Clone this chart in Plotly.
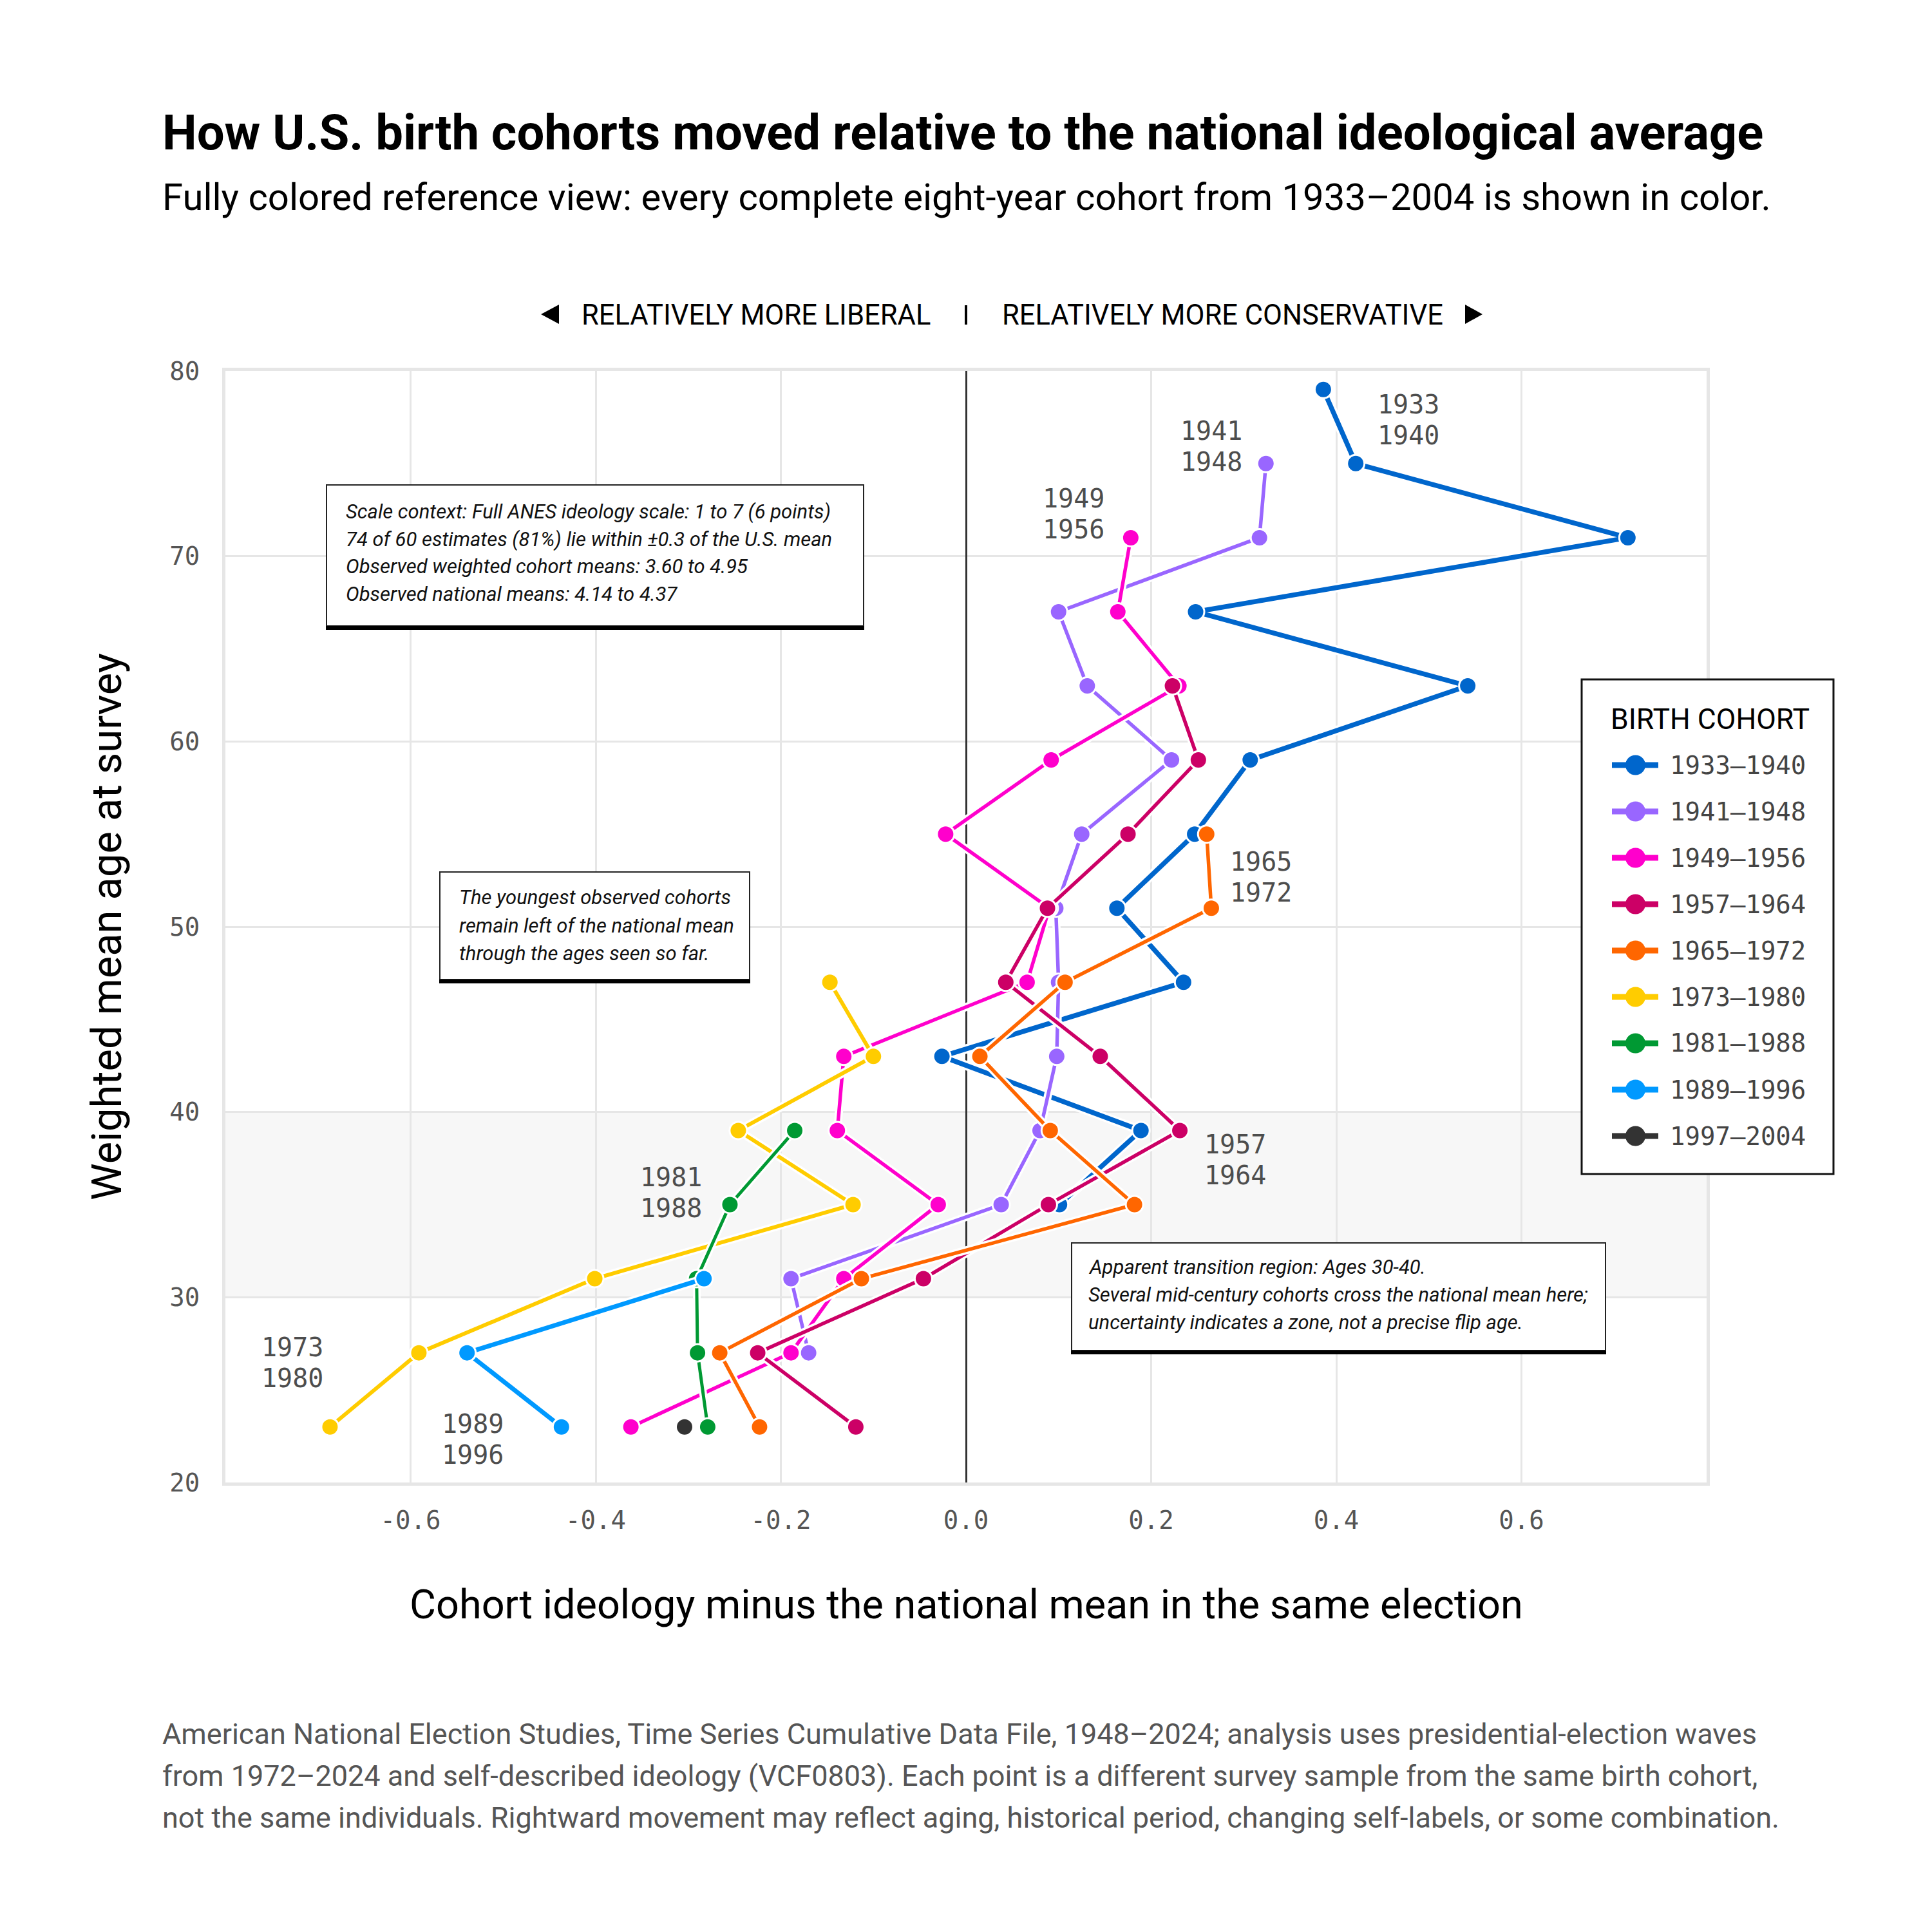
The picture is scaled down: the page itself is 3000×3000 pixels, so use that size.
import plotly.graph_objects as go

# ---------------- data ----------------
cohort_labels = ["1933–1940", "1941–1948", "1949–1956", "1957–1964", "1965–1972",
                 "1973–1980", "1981–1988", "1989–1996", "1997–2004"]

ages_1933_1940 = [35, 39, 43, 47, 51, 55, 59, 63, 67, 71, 75, 79]
diff_1933_1940 = [0.101, 0.189, -0.026, 0.235, 0.163, 0.247, 0.307, 0.542, 0.248, 0.715, 0.421, 0.386]

ages_1941_1948 = [27, 31, 35, 39, 43, 47, 51, 55, 59, 63, 67, 71, 75]
diff_1941_1948 = [-0.170, -0.189, 0.038, 0.080, 0.098, 0.100, 0.097, 0.125, 0.222, 0.131, 0.100, 0.317, 0.324]

ages_1949_1956 = [23, 27, 31, 35, 39, 43, 47, 51, 55, 59, 63, 67, 71]
diff_1949_1956 = [-0.362, -0.189, -0.132, -0.030, -0.139, -0.132, 0.066, 0.090, -0.022, 0.092, 0.230, 0.164, 0.178]

ages_1957_1964 = [23, 27, 31, 35, 39, 43, 47, 51, 55, 59, 63]
diff_1957_1964 = [-0.119, -0.225, -0.046, 0.089, 0.231, 0.145, 0.043, 0.088, 0.175, 0.251, 0.223]

ages_1965_1972 = [23, 27, 31, 35, 39, 43, 47, 51, 55]
diff_1965_1972 = [-0.223, -0.266, -0.113, 0.182, 0.091, 0.015, 0.107, 0.265, 0.260]

ages_1973_1980 = [23, 27, 31, 35, 39, 43, 47]
diff_1973_1980 = [-0.687, -0.591, -0.401, -0.122, -0.246, -0.100, -0.147]

ages_1981_1988 = [23, 27, 31, 35, 39]
diff_1981_1988 = [-0.279, -0.290, -0.291, -0.255, -0.185]

ages_1989_1996 = [23, 27, 31]
diff_1989_1996 = [-0.437, -0.539, -0.283]

ages_1997_2004 = [23]
diff_1997_2004 = [-0.304]

x_tick_values = [-0.6, -0.4, -0.2, 0.0, 0.2, 0.4, 0.6]
x_tick_labels = ["-0.6", "-0.4", "-0.2", "0.0", "0.2", "0.4", "0.6"]
y_tick_values = [20, 30, 40, 50, 60, 70, 80]
y_tick_labels = ["20", "30", "40", "50", "60", "70", "80"]

# ---------------- style ----------------
colors = ["#0066cc", "#9966ff", "#ff00cc", "#cc0066", "#ff6600",
          "#ffcc00", "#009933", "#0099ff", "#333333"]
widths = [7.5, 5.5, 5.5, 5.5, 5.5, 6, 5, 7, 5]

series = [
    (diff_1933_1940, ages_1933_1940),
    (diff_1941_1948, ages_1941_1948),
    (diff_1949_1956, ages_1949_1956),
    (diff_1957_1964, ages_1957_1964),
    (diff_1965_1972, ages_1965_1972),
    (diff_1973_1980, ages_1973_1980),
    (diff_1981_1988, ages_1981_1988),
    (diff_1989_1996, ages_1989_1996),
    (diff_1997_2004, ages_1997_2004),
]

SANS = "Roboto, Lato, sans-serif"
MONO = "DejaVu Sans Mono, Liberation Mono, monospace"

W = H = 3000
ML, MR, MT, MB = 350, 350, 576, 698
PW = W - ML - MR
PH = H - MT - MB


def px(x):
    return (x - ML) / PW


def py(y):
    return (H - MB - y) / PH


fig = go.Figure()

for (xs, ys), lab, col, lw in zip(series, cohort_labels, colors, widths):
    if len(xs) > 1:
        fig.add_trace(go.Scatter(x=xs, y=ys, mode="lines",
                                 line=dict(color="white", width=lw + 7),
                                 hoverinfo="skip", showlegend=False))
    fig.add_trace(go.Scatter(
        x=xs, y=ys, name=lab,
        mode="lines+markers" if len(xs) > 1 else "markers",
        line=dict(color=col, width=lw),
        marker=dict(size=27, color=col, line=dict(color="white", width=3)),
        showlegend=False))

shapes = []
annotations = []

# transition band
shapes.append(dict(type="rect", xref="x", yref="y", x0=-0.8, x1=0.8, y0=30, y1=40,
                   fillcolor="#f7f7f7", line=dict(width=0), layer="below"))


def ann(text, x, y, size, color="#000000", xanchor="left", yanchor="middle",
        family=SANS, xref="paper", yref="paper", yshift=0, textangle=0):
    annotations.append(dict(text=text, x=x, y=y, xref=xref, yref=yref,
                            xanchor=xanchor, yanchor=yanchor, showarrow=False,
                            yshift=yshift, textangle=textangle,
                            font=dict(family=family, size=size, color=color)))


# title / subtitle
ann("<b>How U.S. birth cohorts moved relative to the national ideological average</b>",
    px(250), py(206), 76)
ann("Fully colored reference view: every complete eight-year cohort from 1933–2004 is shown in color.",
    px(250), py(306), 58)

# direction header
ann("RELATIVELY MORE LIBERAL", px(1447), py(490), 43.5, xanchor="right")
ann("RELATIVELY MORE CONSERVATIVE", px(1554), py(490), 43.5, xanchor="left")
shapes.append(dict(type="path", xref="paper", yref="paper",
                   path=f"M {px(840)},{py(488)} L {px(868)},{py(473)} L {px(868)},{py(503)} Z",
                   fillcolor="#000000", line=dict(width=0)))
shapes.append(dict(type="path", xref="paper", yref="paper",
                   path=f"M {px(2302)},{py(488)} L {px(2275)},{py(473)} L {px(2275)},{py(503)} Z",
                   fillcolor="#000000", line=dict(width=0)))
shapes.append(dict(type="line", xref="paper", yref="paper", x0=px(1500), x1=px(1500),
                   y0=py(474), y1=py(504), line=dict(color="#000000", width=4)))

# axis titles
ann("Weighted mean age at survey", px(166), 0.5, 65, xanchor="center", textangle=-90)
ann("Cohort ideology minus the national mean in the same election", 0.5, py(2491), 63,
    xanchor="center")

# cohort end labels (two lines each)
cohort_label_text = [("1933", "1940"), ("1941", "1948"), ("1949", "1956"), ("1957", "1964"),
                     ("1965", "1972"), ("1973", "1980"), ("1981", "1988"), ("1989", "1996")]
cohort_label_pos = [(0.443, 77.35, "left"), (0.300, 75.95, "right"), (0.151, 72.3, "right"),
                    (0.256, 37.43, "left"), (0.284, 52.67, "left"), (-0.693, 26.45, "right"),
                    (-0.284, 35.63, "right"), (-0.498, 22.33, "right")]
for (l1, l2), (lx, ly, anc) in zip(cohort_label_text, cohort_label_pos):
    ann(l1, lx, ly, 40, color="#4d4d4d", xanchor=anc, family=MONO, xref="x", yref="y", yshift=24)
    ann(l2, lx, ly, 40, color="#4d4d4d", xanchor=anc, family=MONO, xref="x", yref="y", yshift=-24)


# note boxes
def note_box(x0, x1, y0, y1, text_x, lines, line_ys, size=31):
    shapes.append(dict(type="rect", xref="paper", yref="paper", x0=px(x0), x1=px(x1),
                       y0=py(y1), y1=py(y0), fillcolor="white",
                       line=dict(color="#222222", width=2), layer="above"))
    shapes.append(dict(type="line", xref="paper", yref="paper", x0=px(x0 - 1), x1=px(x1 + 1),
                       y0=py(y1 + 3), y1=py(y1 + 3), line=dict(color="#000000", width=6),
                       layer="above"))
    for t, ly in zip(lines, line_ys):
        ann("<i>" + t + "</i>", px(text_x), py(ly), size, color="#111111")


note_box(507, 1341, 753, 972, 535,
         ["Scale context: Full ANES ideology scale: 1 to 7 (6 points)",
          "74 of 60 estimates (81%) lie within ±0.3 of the U.S. mean",
          "Observed weighted cohort means: 3.60 to 4.95",
          "Observed national means: 4.14 to 4.37"],
         [794, 837, 879, 922])
note_box(683, 1164, 1354, 1521, 711,
         ["The youngest observed cohorts",
          "remain left of the national mean",
          "through the ages seen so far."],
         [1393, 1437, 1480])
note_box(1664, 2493, 1930, 2097, 1688,
         ["Apparent transition region: Ages 30-40.",
          "Several mid-century cohorts cross the national mean here;",
          "uncertainty indicates a zone, not a precise flip age."],
         [1967, 2010, 2053])

# legend (drawn manually)
shapes.append(dict(type="rect", xref="paper", yref="paper", x0=px(2456), x1=px(2847),
                   y0=py(1823), y1=py(1055), fillcolor="white",
                   line=dict(color="#111111", width=3), layer="above"))
ann("BIRTH COHORT", px(2499), py(1117), 44.5, color="#000000")
for i, (lab, col) in enumerate(zip(cohort_labels, colors)):
    yy = 1188 + 72 * i
    shapes.append(dict(type="line", xref="paper", yref="paper", x0=px(2503), x1=px(2575),
                       y0=py(yy), y1=py(yy), line=dict(color=col, width=9), layer="above"))
    shapes.append(dict(type="circle", xref="paper", yref="paper", x0=px(2524), x1=px(2555),
                       y0=py(yy + 15.5), y1=py(yy - 15.5), fillcolor=col,
                       line=dict(width=0), layer="above"))
    ann(lab, px(2591), py(yy), 39, color="#444444", family=MONO)

# footnote
foot_lines = [
    "American National Election Studies, Time Series Cumulative Data File, 1948–2024; analysis uses presidential-election waves",
    "from 1972–2024 and self-described ideology (VCF0803). Each point is a different survey sample from the same birth cohort,",
    "not the same individuals. Rightward movement may reflect aging, historical period, changing self-labels, or some combination.",
]
for t, ly in zip(foot_lines, [2692, 2757, 2822]):
    ann(t, px(250), py(ly), 45, color="#555555")

axis_common = dict(showgrid=True, gridcolor="#e6e6e6", gridwidth=3,
                   showline=True, linecolor="#e6e6e6", linewidth=5, mirror=True,
                   ticks="", fixedrange=True,
                   tickfont=dict(family=MONO, size=39, color="#555555"))

fig.update_layout(
    width=W, height=H,
    margin=dict(l=ML, r=MR, t=MT, b=MB, pad=0),
    paper_bgcolor="white", plot_bgcolor="white",
    showlegend=False,
    xaxis=dict(range=[-0.8, 0.8], tickmode="array", tickvals=x_tick_values, ticktext=x_tick_labels,
               zeroline=True, zerolinecolor="#333333", zerolinewidth=2.5,
               ticklabelstandoff=20, **axis_common),
    yaxis=dict(range=[20, 80], tickmode="array", tickvals=y_tick_values, ticktext=y_tick_labels,
               zeroline=False, ticklabelstandoff=27, **axis_common),
    shapes=shapes,
    annotations=annotations,
)

fig.write_html("out.html")
